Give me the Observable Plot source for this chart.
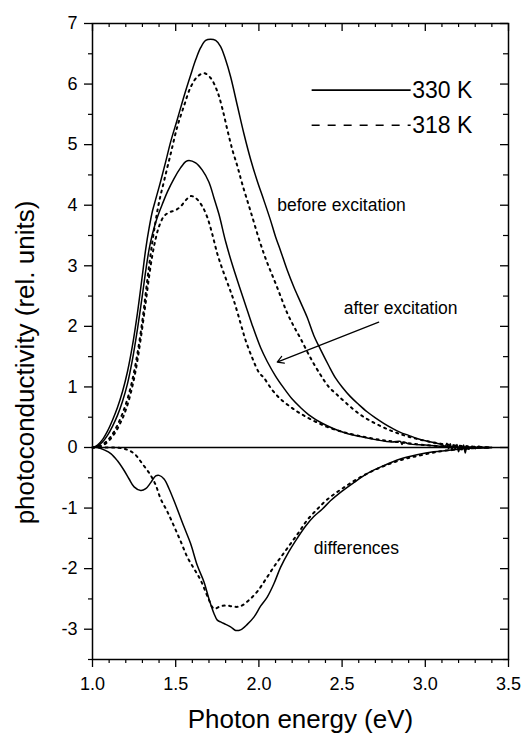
<!DOCTYPE html>
<html><head><meta charset="utf-8">
<script src="https://cdn.jsdelivr.net/npm/d3@7"></script>
<script src="https://cdn.jsdelivr.net/npm/@observablehq/plot@0.6"></script>
<style>body{margin:0;background:#fff;} #chart svg{display:block;}</style>
</head><body><div id="chart"></div>
<script>
// ---- data (photon energy eV, photoconductivity rel. units) ----
const before330 = [[1.00,0],[1.03,0.04],[1.06,0.13],[1.09,0.27],[1.12,0.45],[1.15,0.66],[1.18,0.92],[1.21,1.25],[1.24,1.68],[1.27,2.22],[1.30,2.85],[1.32,3.28],[1.34,3.62],[1.36,3.90],[1.38,4.10],[1.41,4.40],[1.44,4.72],[1.47,5.05],[1.51,5.42],[1.55,5.80],[1.59,6.15],[1.62,6.40],[1.65,6.60],[1.68,6.72],[1.71,6.74],[1.74,6.72],[1.77,6.62],[1.80,6.40],[1.83,6.12],[1.87,5.65],[1.91,5.18],[1.95,4.76],[1.99,4.40],[2.03,4.08],[2.07,3.75],[2.10,3.48],[2.13,3.25],[2.17,2.93],[2.21,2.65],[2.25,2.40],[2.29,2.15],[2.33,1.85],[2.37,1.62],[2.42,1.35],[2.46,1.15],[2.50,1.00],[2.55,0.84],[2.60,0.71],[2.65,0.59],[2.70,0.49],[2.75,0.40],[2.80,0.32],[2.85,0.25],[2.90,0.20],[2.95,0.15],[3.00,0.11],[3.05,0.08],[3.10,0.05],[3.12,0.02],[3.13,0.07],[3.14,-0.02],[3.15,0.06],[3.16,-0.05],[3.17,0.04],[3.18,-0.03],[3.19,0.05],[3.20,-0.07],[3.21,0.03],[3.22,-0.04],[3.23,0.04],[3.24,-0.09],[3.25,0.03],[3.26,-0.03],[3.28,0.02],[3.30,-0.02],[3.32,0.02],[3.35,0.00],[3.40,0.00]];
const before318 = [[1.00,0],[1.04,0.02],[1.08,0.09],[1.12,0.22],[1.15,0.37],[1.18,0.56],[1.21,0.80],[1.24,1.12],[1.27,1.55],[1.30,2.10],[1.32,2.55],[1.34,3.00],[1.36,3.40],[1.38,3.75],[1.40,4.05],[1.43,4.40],[1.47,4.85],[1.51,5.30],[1.55,5.64],[1.59,5.95],[1.63,6.12],[1.67,6.18],[1.71,6.10],[1.75,5.88],[1.78,5.60],[1.81,5.25],[1.84,4.92],[1.87,4.65],[1.90,4.35],[1.95,3.90],[2.01,3.36],[2.05,3.05],[2.09,2.78],[2.13,2.50],[2.17,2.22],[2.21,2.00],[2.25,1.80],[2.31,1.48],[2.37,1.20],[2.42,1.00],[2.47,0.87],[2.53,0.72],[2.60,0.56],[2.67,0.44],[2.75,0.33],[2.83,0.24],[2.91,0.17],[3.00,0.11],[3.10,0.06],[3.20,0.03],[3.30,0.01],[3.40,0.00]];
const after330 = [[1.00,0],[1.03,0.02],[1.06,0.09],[1.09,0.20],[1.12,0.35],[1.15,0.53],[1.18,0.76],[1.21,1.05],[1.24,1.45],[1.27,1.95],[1.30,2.52],[1.32,2.92],[1.34,3.27],[1.36,3.52],[1.38,3.72],[1.40,3.88],[1.42,4.02],[1.45,4.22],[1.49,4.44],[1.53,4.62],[1.56,4.72],[1.58,4.74],[1.62,4.70],[1.66,4.58],[1.70,4.38],[1.73,4.12],[1.76,3.85],[1.80,3.40],[1.84,3.02],[1.88,2.68],[1.92,2.35],[1.96,2.02],[2.01,1.65],[2.05,1.42],[2.10,1.18],[2.15,0.98],[2.20,0.80],[2.25,0.66],[2.30,0.54],[2.38,0.40],[2.45,0.31],[2.52,0.24],[2.61,0.18],[2.70,0.13],[2.80,0.09],[2.85,0.10],[2.86,0.05],[2.87,0.09],[2.90,0.06],[3.00,0.04],[3.10,0.02],[3.20,0.01],[3.30,0.00],[3.40,0.00]];
const after318 = [[1.00,0],[1.05,0.02],[1.09,0.09],[1.13,0.22],[1.17,0.42],[1.20,0.62],[1.23,0.90],[1.26,1.28],[1.29,1.80],[1.32,2.40],[1.34,2.82],[1.36,3.18],[1.38,3.45],[1.40,3.65],[1.43,3.82],[1.46,3.88],[1.50,3.92],[1.53,3.98],[1.56,4.08],[1.59,4.15],[1.62,4.12],[1.66,3.98],[1.69,3.80],[1.72,3.52],[1.75,3.20],[1.78,2.95],[1.82,2.65],[1.85,2.42],[1.89,2.05],[1.92,1.77],[1.96,1.48],[2.00,1.24],[2.03,1.15],[2.08,0.95],[2.13,0.80],[2.19,0.67],[2.25,0.56],[2.33,0.44],[2.41,0.34],[2.50,0.26],[2.59,0.20],[2.70,0.14],[2.80,0.10],[2.90,0.07],[3.00,0.04],[3.10,0.02],[3.20,0.01],[3.30,0.00],[3.40,0.00]];
const diff330 = [[1.00,0],[1.03,0],[1.07,-0.04],[1.11,-0.10],[1.15,-0.22],[1.19,-0.38],[1.22,-0.52],[1.25,-0.65],[1.29,-0.71],[1.32,-0.68],[1.35,-0.58],[1.38,-0.47],[1.40,-0.46],[1.43,-0.52],[1.46,-0.68],[1.50,-0.95],[1.55,-1.31],[1.59,-1.59],[1.63,-1.95],[1.67,-2.22],[1.70,-2.50],[1.73,-2.74],[1.75,-2.85],[1.77,-2.88],[1.80,-2.92],[1.83,-2.96],[1.86,-3.02],[1.89,-3.01],[1.93,-2.92],[1.97,-2.80],[2.01,-2.62],[2.05,-2.47],[2.09,-2.25],[2.13,-1.98],[2.18,-1.72],[2.23,-1.50],[2.28,-1.30],[2.33,-1.14],[2.38,-1.02],[2.43,-0.88],[2.50,-0.72],[2.57,-0.58],[2.65,-0.43],[2.75,-0.30],[2.85,-0.19],[2.95,-0.12],[3.05,-0.07],[3.13,-0.05],[3.20,-0.03],[3.30,-0.01],[3.38,0.00]];
const diff318 = [[1.00,0],[1.11,0],[1.19,-0.02],[1.25,-0.10],[1.30,-0.27],[1.35,-0.46],[1.38,-0.62],[1.41,-0.85],[1.45,-1.06],[1.49,-1.30],[1.53,-1.55],[1.57,-1.81],[1.61,-2.00],[1.65,-2.19],[1.69,-2.45],[1.73,-2.66],[1.77,-2.62],[1.81,-2.61],[1.85,-2.63],[1.89,-2.62],[1.94,-2.52],[1.99,-2.38],[2.04,-2.18],[2.09,-1.97],[2.14,-1.78],[2.19,-1.59],[2.24,-1.40],[2.29,-1.20],[2.35,-1.02],[2.41,-0.86],[2.50,-0.68],[2.61,-0.49],[2.73,-0.33],[2.85,-0.21],[2.97,-0.13],[3.10,-0.06],[3.20,-0.03],[3.30,-0.01],[3.38,0.00]];

// ---- ticks ----
const xMajorTicks = [1.0, 1.5, 2.0, 2.5, 3.0, 3.5];
const xMinorTicks = [1.1,1.2,1.3,1.4,1.6,1.7,1.8,1.9,2.1,2.2,2.3,2.4,2.6,2.7,2.8,2.9,3.1,3.2,3.3,3.4];
const yMajorTicks = [-3,-2,-1,0,1,2,3,4,5,6,7];
const yMinorTicks = [-3.5,-2.5,-1.5,-0.5,0.5,1.5,2.5,3.5,4.5,5.5,6.5];

// ---- text and annotations (data coordinates) ----
const xTitle = "Photon energy (eV)";
const yTitle = "photoconductivity (rel. units)";
const legendEntries = [
  {label: "330 K", x1: 2.32, x2: 2.915, y: 5.90, dashed: false},
  {label: "318 K", x1: 2.32, x2: 2.915, y: 5.32, dashed: true}
];
const notes = [
  {text: "before excitation", x: 2.11, y: 4.00},
  {text: "after excitation", x: 2.51, y: 2.30},
  {text: "differences", x: 2.33, y: -1.67}
];
const arrows = [{x1: 2.72, y1: 2.07, x2: 2.11, y2: 1.41}];

const rows = (pts, group, temp) => pts.map(([x, y]) => ({x, y, group, temp}));
const curves = [
  ...rows(before330, "before330", 330), ...rows(before318, "before318", 318),
  ...rows(after330, "after330", 330), ...rows(after318, "after318", 318),
  ...rows(diff330, "diff330", 330), ...rows(diff318, "diff318", 318)
];
const solid = curves.filter(d => d.temp === 330);
const dotted = curves.filter(d => d.temp === 318);
const blank = () => "";

const chart = Plot.plot({
  width: 525, height: 734,
  marginLeft: 92, marginRight: 17, marginTop: 23, marginBottom: 75,
  style: {fontFamily: "'Liberation Sans', Arial, sans-serif", fontSize: "18px", color: "black", background: "white"},
  x: {domain: [1, 3.5]},
  y: {domain: [-3.5, 7]},
  marks: [
    Plot.ruleY([0], {stroke: "black", strokeWidth: 1.4}),
    Plot.line(solid, {x: "x", y: "y", z: "group", stroke: "black", strokeWidth: 1.5, curve: "catmull-rom"}),
    Plot.line(dotted, {x: "x", y: "y", z: "group", stroke: "black", strokeWidth: 2, strokeDasharray: "2,4.5", curve: "catmull-rom"}),
    // bottom axis (outward ticks + labels)
    Plot.axisX(xMajorTicks, {anchor: "bottom", tickSize: 8, tickPadding: 10, strokeWidth: 1.3, tickFormat: d => d.toFixed(1), fontSize: 18, label: null}),
    Plot.axisX(xMinorTicks, {anchor: "bottom", tickSize: 4, strokeWidth: 1.2, tickFormat: blank, label: null}),
    // top ticks pointing inward
    Plot.axisX(xMajorTicks, {anchor: "bottom", frameAnchor: "top", tickSize: 8, strokeWidth: 1.3, tickFormat: blank, label: null}),
    Plot.axisX(xMinorTicks, {anchor: "bottom", frameAnchor: "top", tickSize: 4, strokeWidth: 1.2, tickFormat: blank, label: null}),
    // left axis (outward ticks + labels)
    Plot.axisY(yMajorTicks, {anchor: "left", tickSize: 8, tickPadding: 7, strokeWidth: 1.3, tickFormat: d => String(d), fontSize: 18, label: null}),
    Plot.axisY(yMinorTicks, {anchor: "left", tickSize: 4, strokeWidth: 1.2, tickFormat: blank, label: null}),
    // right ticks pointing inward
    Plot.axisY(yMajorTicks, {anchor: "left", frameAnchor: "right", tickSize: 8, strokeWidth: 1.3, tickFormat: blank, label: null}),
    Plot.axisY(yMinorTicks, {anchor: "left", frameAnchor: "right", tickSize: 5, strokeWidth: 1.2, tickFormat: blank, label: null}),
    Plot.frame({stroke: "black", strokeWidth: 1.5}),
    // axis titles
    Plot.text([xTitle], {frameAnchor: "bottom", textAnchor: "middle", lineAnchor: "middle", dy: 60, fontSize: 26, fill: "black", text: d => d}),
    Plot.text([yTitle], {frameAnchor: "left", textAnchor: "middle", lineAnchor: "middle", dx: -67, dy: 21, rotate: -90, fontSize: 26, fill: "black", text: d => d}),
    // legend
    Plot.ruleY(legendEntries.filter(d => !d.dashed), {y: "y", x1: "x1", x2: "x2", stroke: "black", strokeWidth: 1.6}),
    Plot.ruleY(legendEntries.filter(d => d.dashed), {y: "y", x1: "x1", x2: "x2", stroke: "black", strokeWidth: 1.6, strokeDasharray: "8,8"}),
    Plot.text(legendEntries, {x: "x2", y: "y", text: "label", textAnchor: "start", dx: 1, fontSize: 23, fill: "black"}),
    // annotations
    Plot.text(notes, {x: "x", y: "y", text: "text", textAnchor: "start", fontSize: 17.5, fill: "black"}),
    Plot.arrow(arrows, {x1: "x1", y1: "y1", x2: "x2", y2: "y2", stroke: "black", strokeWidth: 1.2, headLength: 9, bend: 0, insetStart: 0, insetEnd: 0})
  ]
});
document.getElementById("chart").appendChild(chart);
</script>
</body></html>
